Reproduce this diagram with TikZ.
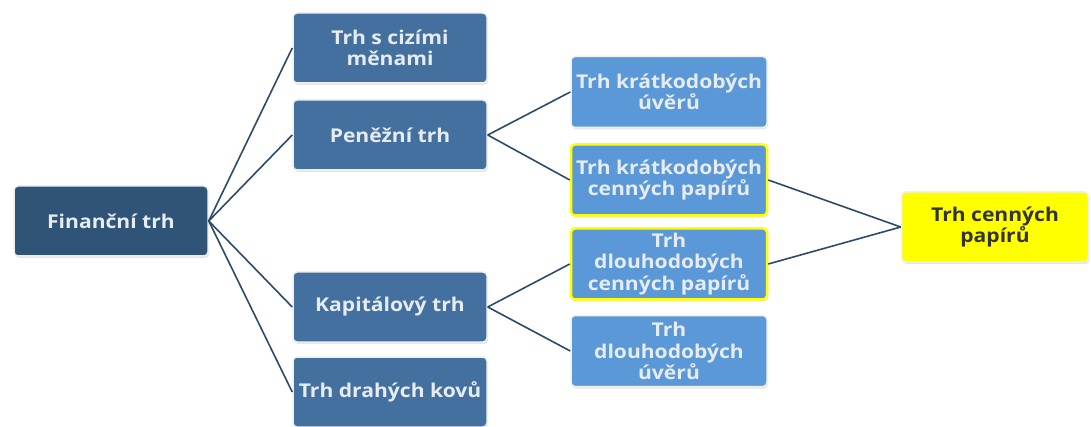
\documentclass[tikz,border=0pt]{standalone}
\usepackage{fontspec}
\setmainfont{Open Sans}[FakeStretch=1.11]
\usetikzlibrary{shadows}
\definecolor{darkbox}{HTML}{2F5478}
\definecolor{midbox}{HTML}{4470A0}
\definecolor{lightbox}{HTML}{5B98D8}
\definecolor{linecol}{HTML}{2E4A6A}
\definecolor{txt}{HTML}{E6ECF2}
\definecolor{ybox}{HTML}{FFFF00}
\tikzset{
  x=1pt,y=-1pt,
  box/.style={rounded corners=4pt, draw=gray!12, line width=1.5pt, text=txt,
    font=\fontsize{19}{21.5}\selectfont\bfseries, align=center, inner sep=0pt,
    drop shadow={shadow xshift=1pt, shadow yshift=-2pt, fill=gray!40, opacity=0.5}},
  rootbox/.style={box, fill=darkbox, minimum width=194pt, minimum height=70pt},
  secbox/.style={box, fill=midbox, minimum width=194pt, minimum height=70pt},
  thirdbox/.style={box, fill=lightbox, minimum width=196pt, minimum height=71pt},
  hlbox/.style={thirdbox, draw=ybox, line width=2.5pt},
  ybox/.style={box, fill=ybox, text=black!80, minimum width=187pt, minimum height=70pt},
  link/.style={draw=linecol, line width=1.6pt},
}
\begin{document}
\begin{tikzpicture}
\useasboundingbox (0,0) rectangle (1091,427);
\node[rootbox] (fin) at (111,221) {Finanční trh};
\node[secbox] (ciz) at (390,48) {Trh s cizími\\měnami};
\node[secbox] (pen) at (390,135) {Peněžní trh};
\node[secbox] (kap) at (390,307) {Kapitálový trh};
\node[secbox] (kov) at (390,392) {Trh drahých kovů};
\node[thirdbox] (ku) at (669,92) {Trh krátkodobých\\úvěrů};
\node[hlbox] (kc) at (669,180) {Trh krátkodobých\\cenných papírů};
\node[hlbox] (dc) at (669,264) {Trh\\dlouhodobých\\cenných papírů};
\node[thirdbox] (du) at (669,351) {Trh\\dlouhodobých\\úvěrů};
\node[ybox] (cp) at (995,227) {Trh cenných\\papírů};
\foreach \t in {ciz,pen,kap,kov} \draw[link] (fin.east) -- (\t.west);
\foreach \t in {ku,kc} \draw[link] (pen.east) -- (\t.west);
\foreach \t in {dc,du} \draw[link] (kap.east) -- (\t.west);
\foreach \t in {kc,dc} \draw[link] (\t.east) -- (cp.west);
\end{tikzpicture}
\end{document}
